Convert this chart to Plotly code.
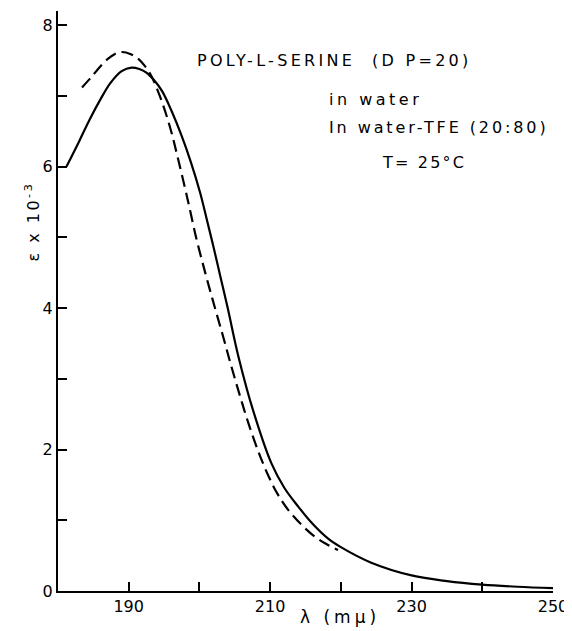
import plotly.graph_objects as go

# in water (solid)
lam_water = [181.2, 183.0, 184.5, 186.0, 187.4, 189.0, 190.4, 191.5, 192.5, 193.6, 194.7,
             196.0, 197.5, 198.8, 200.1, 201.0, 202.0, 203.0, 204.0, 205.5, 207.6,
             210.2, 212.0, 214.0, 216.0, 218.2, 220.0, 224.3, 230.0, 235.0, 240.0, 245.0, 250.0]
eps_water = [6.00, 6.36, 6.67, 6.95, 7.18, 7.35, 7.40, 7.38, 7.33, 7.22, 7.07,
             6.80, 6.43, 6.06, 5.63, 5.27, 4.86, 4.43, 4.00, 3.32, 2.55,
             1.80, 1.46, 1.19, 0.95, 0.74, 0.62, 0.40, 0.22, 0.14, 0.09, 0.06, 0.04]

# in water-TFE 20:80 (dashed)
lam_tfe = [183.4, 184.5, 185.5, 187.0, 188.0, 189.0, 190.3, 191.4, 192.3, 193.2, 194.0,
           194.9, 196.0, 197.0, 198.3, 199.6, 200.9, 202.2, 203.4, 204.5, 205.7,
           206.9, 208.3, 209.7, 211.0, 212.6, 214.5, 216.3, 218.0, 219.6]
eps_tfe = [7.12, 7.24, 7.36, 7.52, 7.59, 7.62, 7.59, 7.52, 7.42, 7.28, 7.10,
           6.86, 6.50, 6.10, 5.55, 4.97, 4.47, 4.00, 3.58, 3.18, 2.77,
           2.38, 1.98, 1.64, 1.38, 1.14, 0.93, 0.77, 0.66, 0.58]

x_tickvals = [190, 210, 230, 250]
y_tickvals = [0, 2, 4, 6, 8]

FONT = "DejaVu Sans"

fig = go.Figure()
fig.add_trace(go.Scatter(x=lam_water, y=eps_water, mode="lines",
                         line=dict(color="black", width=2.2, shape="spline", smoothing=1.0),
                         showlegend=False, hoverinfo="skip"))
fig.add_trace(go.Scatter(x=lam_tfe, y=eps_tfe, mode="lines",
                         line=dict(color="black", width=2.2, dash="12px,6px", shape="spline", smoothing=1.0),
                         showlegend=False, hoverinfo="skip"))

def sp(t, ls=2):
    return f'<span style="letter-spacing:{ls}px">{t}</span>'

ann_font = dict(family=FONT, size=16, color="black")
fig.add_annotation(x=0.277, y=0.914, xref="paper", yref="paper", xanchor="left", yanchor="middle",
                   text=sp("POLY-L-SERINE&nbsp;&nbsp;(D P=20)", 3.3), showarrow=False, font=ann_font)
fig.add_annotation(x=0.543, y=0.847, xref="paper", yref="paper", xanchor="left", yanchor="middle",
                   text=sp("in water", 3.5), showarrow=False, font=ann_font)
fig.add_annotation(x=0.543, y=0.799, xref="paper", yref="paper", xanchor="left", yanchor="middle",
                   text=sp("In water-TFE (20:80)", 2.9), showarrow=False, font=ann_font)
fig.add_annotation(x=0.650, y=0.739, xref="paper", yref="paper", xanchor="left", yanchor="middle",
                   text=sp("T= 25°C", 2.2), showarrow=False, font=ann_font)
fig.add_annotation(x=-0.0505, y=0.637, xref="paper", yref="paper", xanchor="center", yanchor="middle",
                   text=sp("ε x 10<sup>-3</sup>", 2.5), textangle=-90, showarrow=False,
                   font=dict(family=FONT, size=16, color="black"))
fig.add_annotation(x=0.570, y=-0.0446, xref="paper", yref="paper", xanchor="center", yanchor="middle",
                   text=sp("λ (mμ)", 4), showarrow=False,
                   font=dict(family=FONT, size=17, color="black"))

fig.update_xaxes(range=[180, 250], tickmode="array", tickvals=x_tickvals,
                 ticktext=[str(v) for v in x_tickvals], automargin=False,
                 ticks="inside", ticklen=9, tickwidth=2, tickcolor="black",
                 minor=dict(dtick=10, tick0=180, ticks="inside", ticklen=9, tickwidth=2, tickcolor="black"),
                 showline=True, linecolor="black", linewidth=2, showgrid=False, zeroline=False,
                 tickfont=dict(family=FONT, size=16, color="black"))
fig.update_yaxes(range=[0, 8.2], tickmode="array", tickvals=y_tickvals,
                 ticktext=[str(v) for v in y_tickvals], automargin=False,
                 ticks="inside", ticklen=9, tickwidth=2, tickcolor="black",
                 minor=dict(dtick=1, tick0=0, ticks="inside", ticklen=9, tickwidth=2, tickcolor="black"),
                 showline=True, linecolor="black", linewidth=2, showgrid=False, zeroline=False,
                 tickfont=dict(family=FONT, size=16, color="black"))

# the page adds an 8px body margin, so the figure is sized 8px smaller
fig.update_layout(width=564, height=623, margin=dict(l=50, r=19, t=3, b=40),
                  plot_bgcolor="white", paper_bgcolor="white", showlegend=False)

fig.write_html("out.html")
